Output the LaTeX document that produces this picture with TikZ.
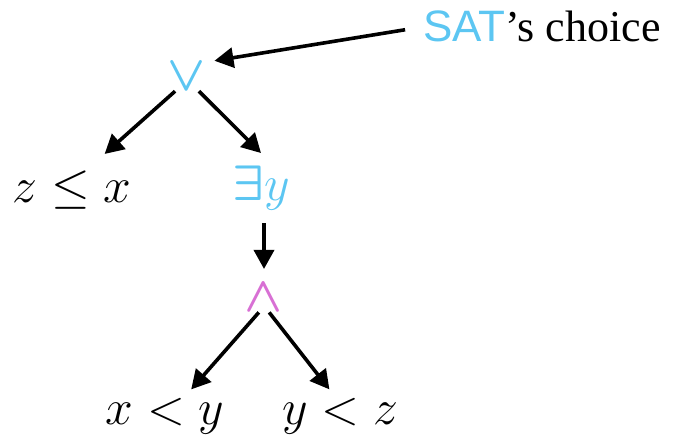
\documentclass[tikz,border=0pt]{standalone}
\usepackage{amsmath}
\usepackage{fontspec}
\setmainfont{Liberation Serif}
\setsansfont{Liberation Sans}
\definecolor{satblue}{RGB}{92,198,242}
\definecolor{andpink}{RGB}{216,112,212}
\usetikzlibrary{arrows.meta}

\begin{document}
\begin{tikzpicture}[x=0.5pt,y=-0.5pt,
  lbl/.style={inner sep=0pt,font=\fontsize{24}{28}\selectfont},
  arr/.style={-{Triangle[length=9.5pt,width=10pt]},line width=1.8pt}]
  \useasboundingbox (0,0) rectangle (679,437);

  %% Annotation
  \node[lbl,font=\fontsize{22}{26}\selectfont,anchor=base] (sat) at (542,42)
        {\textsf{\color{satblue}SAT}’s choice};

  %% Tree nodes
  \node[lbl] (or) at (187,77) {$\color{satblue}\boldsymbol{\vee}$};
  \node[lbl,anchor=base] (zx) at (72,203) {$z \le x$};
  \node[lbl,anchor=base] (ey) at (261,201) {$\color{satblue}\boldsymbol{\exists} y$};
  \node[lbl,anchor=base] (and) at (264,312) {$\color{andpink}\boldsymbol{\wedge}$};
  \node[lbl,anchor=base] (xy) at (165,425) {$x < y$};
  \node[lbl,anchor=base] (yz) at (340,425) {$y < z$};

  %% Edges
  \draw[arr,shorten <=9pt] (sat.west) -- ([xshift=4pt,yshift=1pt]or.north east);
  \draw[arr] (or.-130) -- ([yshift=8.5pt]zx.31);
  \draw[arr] (or.-50) -- ([yshift=6.5pt]ey.north);
  \draw[arr,shorten <=6pt,shorten >=7.5pt] (and.north |- ey.south) -- (and.north);
  \draw[arr] (and.-110) -- ([yshift=4.5pt]xy.35);
  \draw[arr] (and.-70) -- ([yshift=4.5pt]yz.120);
\end{tikzpicture}
\end{document}
